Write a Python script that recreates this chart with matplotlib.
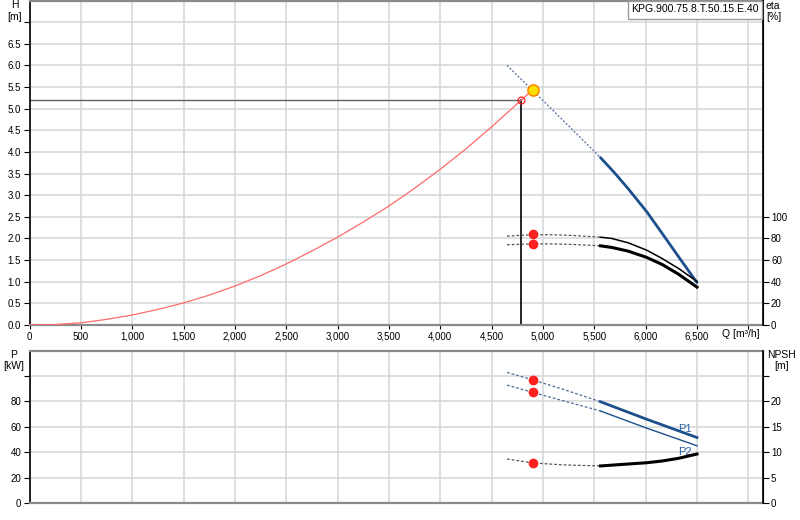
import matplotlib
matplotlib.use("Agg")
import matplotlib.pyplot as plt
from matplotlib.patches import Rectangle

plt.rcParams['font.family'] = ['Liberation Sans', 'DejaVu Sans']
plt.rcParams['font.size'] = 7

# ---------------- data ----------------
title_box = "KPG.900.75.8.T.50.15.E.40"

x_ticks = [0, 500, 1000, 1500, 2000, 2500, 3000, 3500, 4000, 4500, 5000, 5500, 6000, 6500, 7000]
x_tick_labels = ["0", "500", "1,000", "1,500", "2,000", "2,500", "3,000", "3,500", "4,000",
                 "4,500", "5,000", "5,500", "6,000", "6,500", ""]
h_ticks = [0.0, 0.5, 1.0, 1.5, 2.0, 2.5, 3.0, 3.5, 4.0, 4.5, 5.0, 5.5, 6.0, 6.5, 7.0]
h_tick_labels = ["0.0", "0.5", "1.0", "1.5", "2.0", "2.5", "3.0", "3.5", "4.0", "4.5",
                 "5.0", "5.5", "6.0", "6.5", ""]
eta_ticks = [0, 20, 40, 60, 80, 100]
p_ticks = [0, 20, 40, 60, 80, 100]
p_tick_labels = ["0", "20", "40", "60", "80", ""]
npsh_ticks = [0, 5, 10, 15, 20, 25]
npsh_tick_labels = ["0", "5", "10", "15", "20", ""]

# system curve
sys_q = [0, 250, 500, 750, 1000, 1250, 1500, 1750, 2000, 2250, 2500, 2750, 3000, 3250,
         3500, 3750, 4000, 4250, 4500, 4790, 4900]
sys_h = [0.0, 0.01, 0.05, 0.13, 0.23, 0.36, 0.51, 0.69, 0.90, 1.14, 1.41, 1.71, 2.03, 2.38,
         2.75, 3.16, 3.60, 4.07, 4.58, 5.20, 5.44]

# required duty point and operating point
duty_q, duty_h = 4790, 5.20
op_q, op_h = 4900, 5.44

# pump head curve
h_dash_q = [4650, 4900, 5200, 5560]
h_dash_v = [6.00, 5.42, 4.72, 3.87]
h_sol_q = [5560, 5700, 5830, 6010, 6160, 6320, 6500]
h_sol_v = [3.87, 3.51, 3.15, 2.62, 2.12, 1.58, 0.98]

# efficiency curves
eta1_dash_q = [4650, 4900, 5100, 5300, 5560]
eta1_dash_v = [82.2, 83.5, 83.4, 82.7, 81.2]
eta1_sol_q = [5560, 5670, 5830, 6010, 6160, 6320, 6500]
eta1_sol_v = [81.2, 80.0, 76.0, 69.2, 61.5, 52.3, 40.3]
eta2_dash_q = [4650, 4900, 5100, 5300, 5560]
eta2_dash_v = [74.2, 75.0, 75.0, 74.4, 73.2]
eta2_sol_q = [5560, 5670, 5830, 6010, 6160, 6320, 6500]
eta2_sol_v = [73.2, 71.7, 68.3, 62.5, 56.0, 47.0, 35.0]
eta_pts = [83.7, 75.0]

# power curves
p1_dash_q = [4650, 4900, 5200, 5560]
p1_dash_v = [102.9, 97.0, 89.5, 79.8]
p1_sol_q = [5560, 6000, 6500]
p1_sol_v = [79.8, 66.3, 51.6]
p2_dash_q = [4650, 4900, 5200, 5560]
p2_dash_v = [92.9, 87.2, 80.5, 72.5]
p2_sol_q = [5560, 6000, 6500]
p2_sol_v = [72.5, 59.3, 45.1]
p_pts = [97.0, 87.2]

# NPSH curve
npsh_dash_q = [4650, 4900, 5200, 5560]
npsh_dash_v = [8.66, 7.90, 7.50, 7.30]
npsh_sol_q = [5560, 5830, 6010, 6160, 6320, 6500]
npsh_sol_v = [7.30, 7.68, 7.93, 8.27, 8.80, 9.65]
npsh_pt = 7.90

# ---------------- styling ----------------
W, H = 800, 520
BLUE = "#1c4f8c"
BLUE2 = "#2a62a8"
GRID = "#d3d6d8"
RED = "#ff2020"
SYS = "#ff6a6a"
DASH = (0, (2.2, 1.6))

fig = plt.figure(figsize=(8, 5.2), dpi=100)

def ax_rect(l, t, r, b):
    return [l / W, 1 - b / H, (r - l) / W, (b - t) / H]

XMAX = 7140

ax = fig.add_axes(ax_rect(29.5, 0.5, 762.7, 325))
ax2 = ax.twinx()
bx = fig.add_axes(ax_rect(29.5, 350.7, 762.7, 503))
bx2 = bx.twinx()

for a in (ax, bx):
    a.set_xlim(0, XMAX)
    a.set_xticks(x_ticks)
    a.grid(True, color=GRID, lw=1.1)
    a.set_axisbelow(True)
    for s in ("top", "bottom"):
        a.spines[s].set_color("#8a8a8a")
        a.spines[s].set_linewidth(1.6)
    a.spines["left"].set_color("black")
    a.spines["left"].set_linewidth(1.2)
for a in (ax2, bx2):
    a.spines["right"].set_color("black")
    a.spines["right"].set_linewidth(1.2)
    for s in ("top", "bottom", "left"):
        a.spines[s].set_visible(False)

ax.set_ylim(0, 7.5)
ax.set_yticks(h_ticks)
ax.set_yticklabels(h_tick_labels)
ax.set_xticklabels(x_tick_labels)
ax2.set_ylim(0, 300)
ax2.set_yticks(eta_ticks)

bx.set_ylim(0, 120)
bx.set_yticks(p_ticks)
bx.set_yticklabels(p_tick_labels)
bx.set_xticklabels([])
bx.tick_params(axis="x", length=0)
bx2.set_ylim(0, 30)
bx2.set_yticks(npsh_ticks)
bx2.set_yticklabels(npsh_tick_labels)

for a in (ax, ax2, bx, bx2):
    a.tick_params(axis="y", length=4, width=0.8, colors="black", labelsize=7, pad=2)
ax.tick_params(axis="x", length=3, width=0.8, labelsize=7, pad=2)

# ---- top panel ----
ax.plot(sys_q, sys_h, color=SYS, lw=0.9, zorder=3)
ax.plot([0, duty_q], [duty_h, duty_h], color="#606060", lw=1.0, zorder=2)
ax.plot([duty_q, duty_q], [0, duty_h], color="black", lw=1.2, zorder=2)
ax.plot(h_dash_q, h_dash_v, color="#4a6a98", lw=0.9, ls=(0, (1.5, 1.5)), zorder=3)
ax.plot(h_sol_q, h_sol_v, color=BLUE, lw=2.0, zorder=4, solid_capstyle="round")
ax.plot([duty_q], [duty_h], "o", ms=5, mfc="none", mec=RED, mew=0.9, zorder=5)
ax.plot([op_q], [op_h], "o", ms=8, mfc="#ffe000", mec="#ff8c00", mew=1.2, zorder=6)

ax2.plot(eta1_dash_q, eta1_dash_v, color="#555555", lw=0.9, ls=DASH)
ax2.plot(eta1_sol_q, eta1_sol_v, color="black", lw=1.1)
ax2.plot(eta2_dash_q, eta2_dash_v, color="#555555", lw=0.9, ls=DASH)
ax2.plot(eta2_sol_q, eta2_sol_v, color="black", lw=2.2)
ax2.plot([op_q, op_q], eta_pts, "o", ms=6, color=RED, ls="none", zorder=6)

# ---- bottom panel ----
bx.plot(p1_dash_q, p1_dash_v, color="#4a6a98", lw=0.9, ls=DASH)
bx.plot(p1_sol_q, p1_sol_v, color=BLUE, lw=2.0)
bx.plot(p2_dash_q, p2_dash_v, color="#4a6a98", lw=0.9, ls=DASH)
bx.plot(p2_sol_q, p2_sol_v, color=BLUE, lw=1.0)
bx.plot([op_q, op_q], p_pts, "o", ms=6, color=RED, ls="none", zorder=6)
bx.text(6320, 58.5, "P1", color=BLUE2, fontsize=8, ha="left", va="center")
bx.text(6320, 40.2, "P2", color=BLUE2, fontsize=8, ha="left", va="center")

bx2.plot(npsh_dash_q, npsh_dash_v, color="#555555", lw=0.9, ls=DASH)
bx2.plot(npsh_sol_q, npsh_sol_v, color="black", lw=2.2)
bx2.plot([op_q], [npsh_pt], "o", ms=6, color=RED, zorder=6)

# ---- axis labels (figure pixel coords) ----
def ftxt(x, y, s, ha="center", size=7.5):
    fig.text(x / W, 1 - y / H, s, ha=ha, va="center", fontsize=size)

ftxt(15, 5, "H")
ftxt(15, 17, "[m]")
ftxt(766, 6, "eta", ha="left")
ftxt(766, 17, "[%]", ha="left")
ftxt(722, 334, "Q [m³/h]", ha="left")
ftxt(14, 355, "P")
ftxt(14, 366, "[kW]")
ftxt(782, 355, "NPSH")
ftxt(782, 366, "[m]")

# ---- title box ----
fig.patches.append(Rectangle((628 / W, 1 - 19 / H), (762 - 628) / W, 18.5 / H,
                             transform=fig.transFigure, facecolor="white",
                             edgecolor="#9a9a9a", lw=1.0, zorder=10))
t = fig.text(631 / W, 1 - 9.5 / H, title_box, ha="left", va="center", fontsize=7.6, zorder=11)

fig.savefig("out.png", dpi=100)
